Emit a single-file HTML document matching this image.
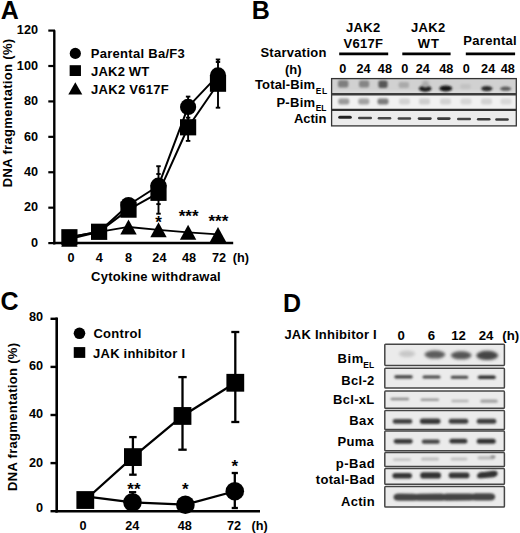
<!DOCTYPE html>
<html><head><meta charset="utf-8"><style>
html,body{margin:0;padding:0;background:#fff;}
svg{display:block;}
text{font-family:"Liberation Sans", sans-serif;font-weight:bold;fill:#000;}
</style></head><body>
<svg width="520" height="533" viewBox="0 0 520 533">
<defs><filter id="b5" x="-50%" y="-100%" width="200%" height="300%"><feGaussianBlur stdDeviation="0.5"/></filter><filter id="b6" x="-50%" y="-100%" width="200%" height="300%"><feGaussianBlur stdDeviation="0.6"/></filter><filter id="b7" x="-50%" y="-100%" width="200%" height="300%"><feGaussianBlur stdDeviation="0.7"/></filter><filter id="b8" x="-50%" y="-100%" width="200%" height="300%"><feGaussianBlur stdDeviation="0.8"/></filter><filter id="b9" x="-50%" y="-100%" width="200%" height="300%"><feGaussianBlur stdDeviation="0.9"/></filter><filter id="b10" x="-50%" y="-100%" width="200%" height="300%"><feGaussianBlur stdDeviation="1.0"/></filter><filter id="b11" x="-50%" y="-100%" width="200%" height="300%"><feGaussianBlur stdDeviation="1.1"/></filter><filter id="b12" x="-50%" y="-100%" width="200%" height="300%"><feGaussianBlur stdDeviation="1.2"/></filter><filter id="b13" x="-50%" y="-100%" width="200%" height="300%"><feGaussianBlur stdDeviation="1.3"/></filter><filter id="b14" x="-50%" y="-100%" width="200%" height="300%"><feGaussianBlur stdDeviation="1.4"/></filter><filter id="b15" x="-50%" y="-100%" width="200%" height="300%"><feGaussianBlur stdDeviation="1.5"/></filter><filter id="b16" x="-50%" y="-100%" width="200%" height="300%"><feGaussianBlur stdDeviation="1.6"/></filter><filter id="b17" x="-50%" y="-100%" width="200%" height="300%"><feGaussianBlur stdDeviation="1.7"/></filter><filter id="b18" x="-50%" y="-100%" width="200%" height="300%"><feGaussianBlur stdDeviation="1.8"/></filter><filter id="b19" x="-50%" y="-100%" width="200%" height="300%"><feGaussianBlur stdDeviation="1.9"/></filter><filter id="b20" x="-50%" y="-100%" width="200%" height="300%"><feGaussianBlur stdDeviation="2.0"/></filter><filter id="b21" x="-50%" y="-100%" width="200%" height="300%"><feGaussianBlur stdDeviation="2.1"/></filter><filter id="b22" x="-50%" y="-100%" width="200%" height="300%"><feGaussianBlur stdDeviation="2.2"/></filter><filter id="b23" x="-50%" y="-100%" width="200%" height="300%"><feGaussianBlur stdDeviation="2.3"/></filter><filter id="b24" x="-50%" y="-100%" width="200%" height="300%"><feGaussianBlur stdDeviation="2.4"/></filter></defs>
<rect width="520" height="533" fill="#fff"/>
<text x="0.68" y="18.90" font-size="25" >A</text>
<line x1="54.30" y1="30.30" x2="54.30" y2="244.40" stroke="#000" stroke-width="2.4"/>
<line x1="53.10" y1="243.10" x2="233.20" y2="243.10" stroke="#000" stroke-width="2.5"/>
<line x1="48.30" y1="243.10" x2="55.00" y2="243.10" stroke="#000" stroke-width="2.2"/>
<text x="30.96" y="246.90" font-size="12.7" >0</text>
<line x1="48.30" y1="207.68" x2="55.00" y2="207.68" stroke="#000" stroke-width="2.2"/>
<text x="23.91" y="211.48" font-size="12.7" >20</text>
<line x1="48.30" y1="172.26" x2="55.00" y2="172.26" stroke="#000" stroke-width="2.2"/>
<text x="23.91" y="176.06" font-size="12.7" >40</text>
<line x1="48.30" y1="136.84" x2="55.00" y2="136.84" stroke="#000" stroke-width="2.2"/>
<text x="23.91" y="140.64" font-size="12.7" >60</text>
<line x1="48.30" y1="101.42" x2="55.00" y2="101.42" stroke="#000" stroke-width="2.2"/>
<text x="23.91" y="105.22" font-size="12.7" >80</text>
<line x1="48.30" y1="66.00" x2="55.00" y2="66.00" stroke="#000" stroke-width="2.2"/>
<text x="16.83" y="69.80" font-size="12.7" >100</text>
<line x1="48.30" y1="30.58" x2="55.00" y2="30.58" stroke="#000" stroke-width="2.2"/>
<text x="16.83" y="34.38" font-size="12.7" >120</text>
<text x="67.48" y="262.00" font-size="12.7" >0</text>
<text x="95.81" y="262.00" font-size="12.7" >4</text>
<text x="125.06" y="262.00" font-size="12.7" >8</text>
<text x="152.36" y="262.00" font-size="12.7" >24</text>
<text x="182.05" y="262.00" font-size="12.7" >48</text>
<text x="211.94" y="262.00" font-size="12.7" >72</text>
<text x="232.77" y="262.00" font-size="12.7" >(h)</text>
<text x="91.08" y="281.00" font-size="13" letter-spacing="0.220" >Cytokine withdrawal</text>
<text transform="translate(12.00,186.30) rotate(-90)" x="-0.88" y="0" font-size="13" letter-spacing="0.327">DNA fragmentation (%)</text>
<polyline points="69.40,239.20 99.10,231.77 128.50,226.98 158.50,229.82 188.10,232.30 218.00,234.42" fill="none" stroke="#000" stroke-width="1.8" stroke-linejoin="round"/>
<polyline points="69.40,237.26 99.10,231.77 128.50,205.02 158.50,185.72 188.10,106.91 218.00,75.39" fill="none" stroke="#000" stroke-width="2.0" stroke-linejoin="round"/>
<polyline points="69.40,237.26 99.10,231.77 128.50,209.63 158.50,192.80 188.10,127.28 218.00,83.71" fill="none" stroke="#000" stroke-width="2.0" stroke-linejoin="round"/>
<line x1="158.50" y1="166.20" x2="158.50" y2="213.70" stroke="#000" stroke-width="1.9"/>
<line x1="156.25" y1="166.20" x2="160.75" y2="166.20" stroke="#000" stroke-width="1.9"/>
<line x1="156.25" y1="213.70" x2="160.75" y2="213.70" stroke="#000" stroke-width="1.9"/>
<line x1="156.30" y1="174.00" x2="160.70" y2="174.00" stroke="#000" stroke-width="1.9"/>
<line x1="156.30" y1="204.10" x2="160.70" y2="204.10" stroke="#000" stroke-width="1.9"/>
<line x1="188.10" y1="96.60" x2="188.10" y2="140.90" stroke="#000" stroke-width="1.9"/>
<line x1="185.85" y1="96.60" x2="190.35" y2="96.60" stroke="#000" stroke-width="1.9"/>
<line x1="185.85" y1="140.90" x2="190.35" y2="140.90" stroke="#000" stroke-width="1.9"/>
<line x1="185.90" y1="117.70" x2="190.30" y2="117.70" stroke="#000" stroke-width="1.9"/>
<line x1="218.00" y1="59.50" x2="218.00" y2="107.70" stroke="#000" stroke-width="1.9"/>
<line x1="215.75" y1="59.50" x2="220.25" y2="59.50" stroke="#000" stroke-width="1.9"/>
<line x1="215.75" y1="107.70" x2="220.25" y2="107.70" stroke="#000" stroke-width="1.9"/>
<line x1="215.80" y1="62.00" x2="220.20" y2="62.00" stroke="#000" stroke-width="1.9"/>
<polygon points="61.20,246.70 77.60,246.70 69.40,231.70"/>
<polygon points="90.90,239.27 107.30,239.27 99.10,224.27"/>
<polygon points="120.30,234.48 136.70,234.48 128.50,219.48"/>
<polygon points="150.30,237.32 166.70,237.32 158.50,222.32"/>
<polygon points="179.90,239.80 196.30,239.80 188.10,224.80"/>
<polygon points="209.80,241.92 226.20,241.92 218.00,226.92"/>
<circle cx="128.50" cy="205.02" r="8.1"/>
<circle cx="158.50" cy="185.72" r="8.1"/>
<circle cx="188.10" cy="106.91" r="8.1"/>
<circle cx="218.00" cy="75.39" r="8.1"/>
<rect x="61.30" y="229.16" width="16.2" height="16.2"/>
<rect x="91.00" y="223.67" width="16.2" height="16.2"/>
<rect x="120.40" y="201.53" width="16.2" height="16.2"/>
<rect x="150.40" y="184.70" width="16.2" height="16.2"/>
<rect x="180.00" y="119.18" width="16.2" height="16.2"/>
<rect x="209.90" y="75.61" width="16.2" height="16.2"/>
<text x="155.19" y="228.30" font-size="17" >*</text>
<text x="178.68" y="222.20" font-size="17" >***</text>
<text x="208.48" y="226.50" font-size="17" >***</text>
<circle cx="75.30" cy="53.40" r="5.6"/>
<rect x="69.65" y="65.20" width="11.3" height="10.8"/>
<polygon points="68.30,94.40 82.30,94.40 75.30,82.20"/>
<text x="90.72" y="58.30" font-size="13" letter-spacing="0.286" >Parental Ba/F3</text>
<text x="91.11" y="75.60" font-size="13" letter-spacing="0.181" >JAK2 WT</text>
<text x="91.11" y="93.50" font-size="13" letter-spacing="0.268" >JAK2 V617F</text>
<text x="251.81" y="19.30" font-size="25" >B</text>
<text x="346.10" y="31.60" font-size="13" letter-spacing="0.267" >JAK2</text>
<text x="343.60" y="47.80" font-size="13" letter-spacing="0.242" >V617F</text>
<text x="411.10" y="31.60" font-size="13" letter-spacing="0.267" >JAK2</text>
<text x="417.87" y="47.60" font-size="13" letter-spacing="0.848" >WT</text>
<text x="463.32" y="45.40" font-size="13" letter-spacing="0.300" >Parental</text>
<line x1="339.20" y1="53.80" x2="388.20" y2="53.80" stroke="#000" stroke-width="2.8"/>
<line x1="402.30" y1="53.80" x2="450.60" y2="53.80" stroke="#000" stroke-width="2.8"/>
<line x1="465.80" y1="53.80" x2="515.10" y2="53.80" stroke="#000" stroke-width="2.8"/>
<text x="260.41" y="57.20" font-size="13" letter-spacing="0.278" >Starvation</text>
<text x="284.95" y="73.60" font-size="13" >(h)</text>
<text x="339.18" y="72.80" font-size="12.7" >0</text>
<text x="356.41" y="72.80" font-size="12.7" >24</text>
<text x="377.85" y="72.80" font-size="12.7" >48</text>
<text x="401.18" y="72.80" font-size="12.7" >0</text>
<text x="415.76" y="72.80" font-size="12.7" >24</text>
<text x="439.15" y="72.80" font-size="12.7" >48</text>
<text x="462.78" y="72.80" font-size="12.7" >0</text>
<text x="481.11" y="72.80" font-size="12.7" >24</text>
<text x="500.80" y="72.80" font-size="12.7" >48</text>
<text x="254.97" y="89.40" font-size="13" letter-spacing="0.144" >Total-Bim</text>
<text x="315.73" y="93.60" font-size="8.4" letter-spacing="0.688" >EL</text>
<text x="276.42" y="107.10" font-size="13" letter-spacing="0.280" >P-Bim</text>
<text x="315.73" y="111.40" font-size="8.4" letter-spacing="-0.012" >EL</text>
<text x="293.88" y="123.20" font-size="13" >Actin</text>
<text x="0.50" y="310.20" font-size="25" >C</text>
<line x1="56.70" y1="317.50" x2="56.70" y2="512.50" stroke="#000" stroke-width="2.6"/>
<line x1="55.40" y1="511.30" x2="260.00" y2="511.30" stroke="#000" stroke-width="2.6"/>
<line x1="50.50" y1="511.20" x2="57.00" y2="511.20" stroke="#000" stroke-width="2.4"/>
<text x="36.06" y="512.30" font-size="12.7" >0</text>
<line x1="50.50" y1="463.10" x2="57.00" y2="463.10" stroke="#000" stroke-width="2.4"/>
<text x="29.01" y="467.30" font-size="12.7" >20</text>
<line x1="50.50" y1="415.00" x2="57.00" y2="415.00" stroke="#000" stroke-width="2.4"/>
<text x="29.01" y="418.00" font-size="12.7" >40</text>
<line x1="50.50" y1="366.90" x2="57.00" y2="366.90" stroke="#000" stroke-width="2.4"/>
<text x="29.01" y="370.00" font-size="12.7" >60</text>
<line x1="50.50" y1="318.80" x2="57.00" y2="318.80" stroke="#000" stroke-width="2.4"/>
<text x="29.01" y="320.80" font-size="12.7" >80</text>
<text x="79.48" y="529.80" font-size="12.7" >0</text>
<text x="125.26" y="529.80" font-size="12.7" >24</text>
<text x="177.75" y="529.80" font-size="12.7" >48</text>
<text x="226.94" y="529.80" font-size="12.7" >72</text>
<text x="251.47" y="529.80" font-size="12.7" >(h)</text>
<text transform="translate(17.20,490.10) rotate(-90)" x="-0.88" y="0" font-size="13" letter-spacing="0.312">DNA fragmentation (%)</text>
<polyline points="85.30,496.29 132.50,502.30 185.40,504.71 234.80,491.24" fill="none" stroke="#000" stroke-width="2.3" stroke-linejoin="round"/>
<polyline points="85.30,500.02 132.90,457.09 182.50,415.96 235.30,382.77" fill="none" stroke="#000" stroke-width="2.3" stroke-linejoin="round"/>
<line x1="132.90" y1="437.10" x2="132.90" y2="474.70" stroke="#000" stroke-width="2.3"/>
<line x1="129.15" y1="437.10" x2="136.65" y2="437.10" stroke="#000" stroke-width="2.3"/>
<line x1="129.15" y1="474.70" x2="136.65" y2="474.70" stroke="#000" stroke-width="2.3"/>
<line x1="182.50" y1="377.10" x2="182.50" y2="449.70" stroke="#000" stroke-width="2.3"/>
<line x1="178.30" y1="377.10" x2="186.70" y2="377.10" stroke="#000" stroke-width="2.3"/>
<line x1="178.30" y1="449.70" x2="186.70" y2="449.70" stroke="#000" stroke-width="2.3"/>
<line x1="235.30" y1="332.00" x2="235.30" y2="422.00" stroke="#000" stroke-width="2.3"/>
<line x1="231.30" y1="332.00" x2="239.30" y2="332.00" stroke="#000" stroke-width="2.3"/>
<line x1="231.30" y1="422.00" x2="239.30" y2="422.00" stroke="#000" stroke-width="2.3"/>
<line x1="234.80" y1="473.00" x2="234.80" y2="508.00" stroke="#000" stroke-width="2.3"/>
<line x1="231.70" y1="473.00" x2="237.90" y2="473.00" stroke="#000" stroke-width="2.3"/>
<line x1="231.70" y1="508.00" x2="237.90" y2="508.00" stroke="#000" stroke-width="2.3"/>
<line x1="129.00" y1="492.10" x2="136.20" y2="492.10" stroke="#000" stroke-width="2.1"/>
<line x1="132.70" y1="492.10" x2="132.70" y2="498.00" stroke="#000" stroke-width="2.1"/>
<circle cx="132.50" cy="502.30" r="9.3"/>
<circle cx="185.40" cy="504.71" r="9.3"/>
<circle cx="234.80" cy="491.24" r="9.3"/>
<rect x="76.40" y="491.12" width="17.8" height="17.8"/>
<rect x="124.00" y="448.19" width="17.8" height="17.8"/>
<rect x="173.60" y="407.06" width="17.8" height="17.8"/>
<rect x="226.40" y="373.87" width="17.8" height="17.8"/>
<text x="127.27" y="494.60" font-size="17" >**</text>
<text x="182.09" y="495.10" font-size="17" >*</text>
<text x="231.49" y="471.60" font-size="17" >*</text>
<circle cx="79.50" cy="333.30" r="5.8"/>
<rect x="73.75" y="347.10" width="11.5" height="10.8"/>
<text x="93.38" y="337.60" font-size="13" letter-spacing="0.302" >Control</text>
<text x="93.11" y="357.50" font-size="13" letter-spacing="0.218" >JAK inhibitor I</text>
<text x="282.91" y="311.70" font-size="25" >D</text>
<text x="284.40" y="339.30" font-size="13" letter-spacing="0.246" >JAK Inhibitor I</text>
<text x="397.59" y="339.80" font-size="13.2" >0</text>
<text x="427.82" y="339.80" font-size="13.2" >6</text>
<text x="451.28" y="339.80" font-size="13.2" >12</text>
<text x="478.73" y="339.80" font-size="13.2" >24</text>
<text x="502.24" y="339.80" font-size="13.2" >(h)</text>
<text x="337.52" y="363.20" font-size="13" letter-spacing="0.560" >Bim</text>
<text x="363.23" y="367.60" font-size="8.4" letter-spacing="0.088" >EL</text>
<text x="341.32" y="384.50" font-size="13" letter-spacing="0.303" >Bcl-2</text>
<text x="333.12" y="404.00" font-size="13" letter-spacing="0.271" >Bcl-xL</text>
<text x="349.32" y="425.20" font-size="13" letter-spacing="0.376" >Bax</text>
<text x="337.62" y="445.80" font-size="13" letter-spacing="0.229" >Puma</text>
<text x="335.85" y="468.00" font-size="13" letter-spacing="0.492" >p-Bad</text>
<text x="315.84" y="483.90" font-size="13" letter-spacing="0.311" >total-Bad</text>
<text x="341.07" y="505.80" font-size="13" letter-spacing="0.251" >Actin</text>
<rect x="331.6" y="78.5" width="184.7" height="15" fill="#d1d1d1"/>
<rect x="331.6" y="90.5" width="184.7" height="3" fill="#dadada" filter="url(#b8)"/>
<rect x="331.6" y="95" width="184.7" height="14" fill="#f1f1f1"/>
<rect x="331.6" y="110.5" width="184.7" height="15.3" fill="#ececec"/>
<rect x="338.00" y="80.20" width="10.40" height="7.40" rx="2" fill="#7e7e7e" filter="url(#b11)"/>
<rect x="359.00" y="80.40" width="10.20" height="7.20" rx="2" fill="#858585" filter="url(#b11)"/>
<rect x="378.40" y="80.40" width="9.20" height="7.60" rx="2" fill="#565656" filter="url(#b11)"/>
<rect x="398.60" y="82.00" width="10.40" height="6.00" rx="2" fill="#aaaaaa" filter="url(#b11)"/>
<rect x="460.20" y="84.00" width="10.60" height="5.00" rx="2" fill="#c2c2c2" filter="url(#b11)"/>
<ellipse cx="425.20" cy="88.60" rx="6.30" ry="3.10" fill="#161616" filter="url(#b9)"/>
<ellipse cx="445.80" cy="88.40" rx="6.40" ry="3.00" fill="#161616" filter="url(#b9)"/>
<ellipse cx="425.50" cy="84.00" rx="3.50" ry="3.50" fill="#aaaaaa" filter="url(#b15)"/>
<ellipse cx="486.80" cy="88.60" rx="5.60" ry="2.70" fill="#2a2a2a" filter="url(#b9)"/>
<ellipse cx="505.60" cy="88.70" rx="5.60" ry="2.10" fill="#5a5a5a" filter="url(#b9)"/>
<rect x="338.30" y="98.40" width="11.00" height="6.20" rx="2" fill="#9a9a9a" filter="url(#b12)"/>
<rect x="358.30" y="98.40" width="11.00" height="6.20" rx="2" fill="#a2a2a2" filter="url(#b12)"/>
<rect x="377.50" y="98.40" width="11.00" height="6.20" rx="2" fill="#7c7c7c" filter="url(#b12)"/>
<rect x="399.00" y="98.60" width="11.00" height="5.80" rx="2" fill="#d2d2d2" filter="url(#b13)"/>
<rect x="419.00" y="98.60" width="11.00" height="5.80" rx="2" fill="#cdcdcd" filter="url(#b13)"/>
<rect x="440.00" y="98.60" width="11.00" height="5.80" rx="2" fill="#d2d2d2" filter="url(#b13)"/>
<rect x="460.50" y="98.60" width="11.00" height="5.80" rx="2" fill="#d6d6d6" filter="url(#b13)"/>
<rect x="481.00" y="98.60" width="11.00" height="5.80" rx="2" fill="#d2d2d2" filter="url(#b13)"/>
<rect x="500.50" y="98.60" width="11.00" height="5.80" rx="2" fill="#d8d8d8" filter="url(#b13)"/>
<rect x="338.20" y="115.80" width="13.60" height="3.00" rx="1.50" ry="1.50" fill="#222" filter="url(#b7)"/>
<rect x="358.00" y="116.70" width="14.00" height="2.60" rx="1.30" ry="1.30" fill="#444" filter="url(#b7)"/>
<rect x="377.70" y="117.10" width="13.60" height="2.40" rx="1.20" ry="1.20" fill="#4a4a4a" filter="url(#b7)"/>
<rect x="397.60" y="117.20" width="13.60" height="2.60" rx="1.30" ry="1.30" fill="#444" filter="url(#b7)"/>
<rect x="417.70" y="117.20" width="14.00" height="2.80" rx="1.40" ry="1.40" fill="#3a3a3a" filter="url(#b7)"/>
<rect x="437.00" y="117.20" width="13.60" height="2.80" rx="1.40" ry="1.40" fill="#3a3a3a" filter="url(#b7)"/>
<rect x="457.00" y="117.70" width="14.00" height="2.60" rx="1.30" ry="1.30" fill="#444" filter="url(#b7)"/>
<rect x="476.90" y="118.00" width="13.60" height="2.60" rx="1.30" ry="1.30" fill="#3a3a3a" filter="url(#b7)"/>
<rect x="495.20" y="118.20" width="13.60" height="2.60" rx="1.30" ry="1.30" fill="#3a3a3a" filter="url(#b7)"/>
<rect x="331.6" y="78.6" width="184.7" height="47.3" fill="none" stroke="#333" stroke-width="1.3"/>
<line x1="331.60" y1="94.20" x2="516.30" y2="94.20" stroke="#3c3c3c" stroke-width="2.4"/>
<line x1="331.60" y1="109.90" x2="516.30" y2="109.90" stroke="#303030" stroke-width="2.2"/>
<rect x="384.8" y="344.3" width="119.60" height="21.10" rx="0.8" fill="#ebebeb" stroke="#454545" stroke-width="1.5"/>
<rect x="384.8" y="368.2" width="119.60" height="19.80" rx="0.8" fill="#ebebeb" stroke="#454545" stroke-width="1.5"/>
<rect x="384.8" y="391.1" width="119.60" height="17.20" rx="0.8" fill="#ebebeb" stroke="#454545" stroke-width="1.5"/>
<rect x="384.8" y="410.4" width="119.60" height="19.10" rx="0.8" fill="#ebebeb" stroke="#454545" stroke-width="1.5"/>
<rect x="384.8" y="431.0" width="119.60" height="19.80" rx="0.8" fill="#ebebeb" stroke="#454545" stroke-width="1.5"/>
<rect x="384.8" y="452.6" width="119.60" height="14.00" rx="0.8" fill="#ebebeb" stroke="#454545" stroke-width="1.5"/>
<rect x="384.8" y="468.6" width="119.60" height="15.60" rx="0.8" fill="#ebebeb" stroke="#454545" stroke-width="1.5"/>
<rect x="384.8" y="486.6" width="119.60" height="20.40" rx="0.8" fill="#ebebeb" stroke="#454545" stroke-width="1.5"/>
<ellipse cx="407.00" cy="353.80" rx="8.20" ry="3.40" fill="#c8c8c8" filter="url(#b16)"/>
<ellipse cx="434.90" cy="354.60" rx="10.40" ry="4.00" fill="#5c5c5c" filter="url(#b15)"/>
<ellipse cx="461.20" cy="355.30" rx="10.40" ry="4.00" fill="#545454" filter="url(#b15)"/>
<ellipse cx="487.20" cy="355.40" rx="11.00" ry="4.60" fill="#444" filter="url(#b15)"/>
<rect x="394.30" y="375.20" width="18.40" height="3.20" rx="1.60" ry="1.60" fill="#3e3e3e" filter="url(#b10)"/>
<rect x="422.50" y="375.40" width="18.00" height="3.00" rx="1.50" ry="1.50" fill="#444" filter="url(#b10)"/>
<rect x="450.80" y="375.80" width="17.40" height="3.00" rx="1.50" ry="1.50" fill="#444" filter="url(#b10)"/>
<rect x="477.80" y="375.40" width="18.00" height="3.60" rx="1.80" ry="1.80" fill="#2e2e2e" filter="url(#b10)"/>
<rect x="390.50" y="397.70" width="18.60" height="2.60" rx="1.30" ry="1.30" fill="#8a8a8a" filter="url(#b10)"/>
<rect x="420.50" y="398.50" width="18.60" height="2.60" rx="1.30" ry="1.30" fill="#999" filter="url(#b10)"/>
<rect x="451.30" y="399.80" width="17.40" height="2.40" rx="1.20" ry="1.20" fill="#b4b4b4" filter="url(#b10)"/>
<rect x="480.30" y="399.60" width="17.40" height="3.20" rx="1.60" ry="1.60" fill="#a2a2a2" filter="url(#b10)"/>
<rect x="392.70" y="419.00" width="19.60" height="4.80" rx="2.40" ry="2.40" fill="#404040" filter="url(#b13)"/>
<rect x="419.90" y="418.50" width="20.60" height="5.40" rx="2.70" ry="2.70" fill="#383838" filter="url(#b13)"/>
<rect x="448.70" y="418.70" width="19.60" height="5.00" rx="2.50" ry="2.50" fill="#3c3c3c" filter="url(#b13)"/>
<rect x="476.70" y="418.70" width="19.60" height="5.00" rx="2.50" ry="2.50" fill="#3c3c3c" filter="url(#b13)"/>
<rect x="393.70" y="438.90" width="19.00" height="4.80" rx="2.40" ry="2.40" fill="#383838" filter="url(#b12)"/>
<rect x="421.80" y="439.60" width="18.00" height="4.20" rx="2.10" ry="2.10" fill="#444" filter="url(#b12)"/>
<rect x="449.40" y="438.80" width="18.00" height="4.80" rx="2.40" ry="2.40" fill="#363636" filter="url(#b12)"/>
<rect x="476.70" y="438.70" width="19.00" height="5.00" rx="2.50" ry="2.50" fill="#323232" filter="url(#b12)"/>
<rect x="393.00" y="458.20" width="18.00" height="2.80" rx="1.40" ry="1.40" fill="#c4c4c4" filter="url(#b13)"/>
<rect x="421.00" y="457.40" width="18.00" height="3.00" rx="1.50" ry="1.50" fill="#bcbcbc" filter="url(#b13)"/>
<rect x="450.50" y="457.40" width="17.00" height="3.00" rx="1.50" ry="1.50" fill="#c0c0c0" filter="url(#b13)"/>
<rect x="477.50" y="456.20" width="17.00" height="3.20" rx="1.60" ry="1.60" fill="#b8b8b8" filter="url(#b13)"/>
<ellipse cx="493.00" cy="456.80" rx="2.60" ry="1.40" fill="#888" filter="url(#b8)"/>
<rect x="392.40" y="473.10" width="19.60" height="5.40" rx="2.70" ry="2.70" fill="#363636" filter="url(#b13)"/>
<rect x="420.20" y="472.30" width="20.80" height="6.20" rx="3.10" ry="3.10" fill="#303030" filter="url(#b13)"/>
<rect x="448.70" y="472.60" width="20.80" height="5.60" rx="2.80" ry="2.80" fill="#363636" filter="url(#b13)"/>
<g filter="url(#b13)"><path d="M477,476.5 Q477,471.5 484,472 L493,470.8 Q498.2,470.5 497.6,474 Q497,477.3 491,477.6 L482,478.2 Q477,478.5 477,476.5Z" fill="#303030"/></g>
<path d="M393.5,497.2 Q393.5,493.6 399,493.6 L414,493.8 Q416.5,494.4 419,493.8 L441,493.6 Q444,494.3 447,493.6 L470,493.4 Q473,494 476,493.3 L490,493.2 Q495.2,493.3 495.2,496.8 Q495.2,500.4 490,500.5 L476,500.6 Q473,500 470,500.6 L447,500.7 Q444,500.1 441,500.7 L419,500.8 Q416.5,500.2 414,500.8 L399,500.8 Q393.5,500.8 393.5,497.2Z" fill="#444" filter="url(#b13)"/>
</svg>
</body></html>
